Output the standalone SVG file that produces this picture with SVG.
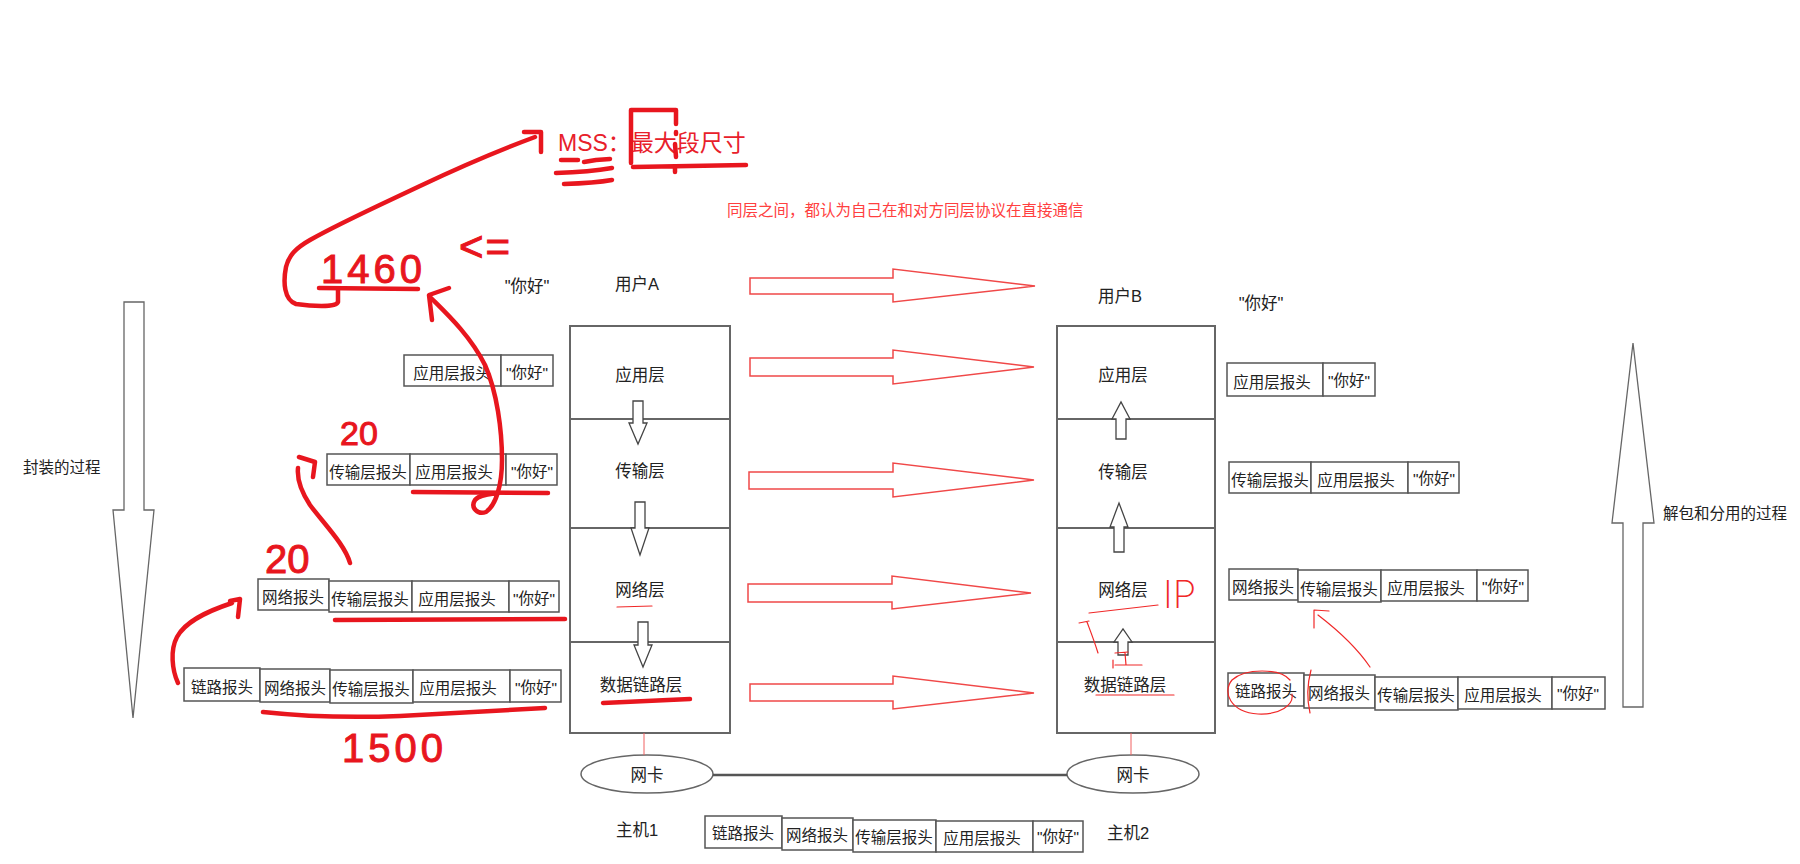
<svg xmlns="http://www.w3.org/2000/svg" width="1800" height="864" viewBox="0 0 1800 864">
<style>
.t{font-family:"Liberation Sans","Noto Sans CJK SC",sans-serif;fill:#222;dominant-baseline:central}
.c{text-anchor:middle}
.lbl{font-size:16.5px}
.pk{font-size:15.5px}
.box{fill:#fff;stroke:#555;stroke-width:1.5}
.layer{fill:#fff;stroke:#666;stroke-width:2}
.big{fill:#fff;stroke:#f04848;stroke-width:1.5}
.small{fill:#fff;stroke:#444;stroke-width:1.3}
.side{fill:#fff;stroke:#666;stroke-width:1.3}
.pen{fill:none;stroke:#e8161e;stroke-width:4.5;stroke-linecap:round;stroke-linejoin:round}
.thin{fill:none;stroke:#f02828;stroke-width:1.2;stroke-linecap:round;stroke-linejoin:round}
.hand{font-family:"Liberation Sans",sans-serif;fill:#e8161e;stroke:#e8161e;stroke-width:1}
.nic{fill:#fff;stroke:#666;stroke-width:1.5}
</style>

<!-- top red notes -->
<g id="mss-note">
<text x="558" y="151" style="font-family:'Liberation Sans','Noto Sans CJK SC',sans-serif;font-size:23px;fill:#e8202a">MSS：最大段尺寸</text>
</g>
<g id="peer-note">
<text x="727" y="216" style="font-family:'Liberation Sans','Noto Sans CJK SC',sans-serif;font-size:15.5px;fill:#ff4040">同层之间，都认为自己在和对方同层协议在直接通信</text>
</g>

<!-- side process arrows -->
<g id="encap-arrow">
<polygon class="side" points="124,302 144,302 144,510 154,510 133,718 113,510 124,510"/>
<text class="t" x="23" y="467" style="font-size:15.5px">封装的过程</text>
</g>
<g id="decap-arrow">
<polygon class="side" points="1623,707 1643,707 1643,523 1654,523 1633,343 1612,523 1623,523"/>
<text class="t" x="1663" y="513" style="font-size:15.5px">解包和分用的过程</text>
</g>

<!-- users -->
<g id="userA"><text class="t c lbl" x="637" y="284">用户A</text></g>
<g id="userB"><text class="t c lbl" x="1120" y="296">用户B</text></g>
<g id="dataA"><text class="t c lbl" x="527" y="286">"你好"</text></g>
<g id="dataB"><text class="t c lbl" x="1261" y="303">"你好"</text></g>

<!-- left stack -->
<g id="hostA-app"><rect class="layer" x="570" y="326" width="160" height="93"/><text class="t c lbl" x="640" y="375">应用层</text></g>
<g id="hostA-trans"><rect class="layer" x="570" y="419" width="160" height="109"/><text class="t c lbl" x="640" y="471">传输层</text></g>
<g id="hostA-net"><rect class="layer" x="570" y="528" width="160" height="114"/><text class="t c lbl" x="640" y="590">网络层</text></g>
<g id="hostA-link"><rect class="layer" x="570" y="642" width="160" height="91"/><text class="t c lbl" x="641" y="685">数据链路层</text></g>

<!-- right stack -->
<g id="hostB-app"><rect class="layer" x="1057" y="326" width="158" height="93"/><text class="t c lbl" x="1123" y="375">应用层</text></g>
<g id="hostB-trans"><rect class="layer" x="1057" y="419" width="158" height="109"/><text class="t c lbl" x="1123" y="472">传输层</text></g>
<g id="hostB-net"><rect class="layer" x="1057" y="528" width="158" height="114"/><text class="t c lbl" x="1123" y="590">网络层</text></g>
<g id="hostB-link"><rect class="layer" x="1057" y="642" width="158" height="91"/><text class="t c lbl" x="1125" y="685">数据链路层</text></g>

<!-- NICs -->
<g id="nicA"><ellipse class="nic" cx="647" cy="774" rx="66" ry="19"/><text class="t c lbl" x="647" y="775">网卡</text></g>
<g id="nicB"><ellipse class="nic" cx="1133" cy="774" rx="66" ry="19"/><text class="t c lbl" x="1133" y="775">网卡</text></g>
<g id="host1"><text class="t c lbl" x="637" y="830">主机1</text></g>
<g id="host2"><text class="t c lbl" x="1128" y="833">主机2</text></g>

<!-- packets left -->
<g id="pktA1">
<rect class="box" x="404" y="355" width="97" height="31"/><text class="t c pk" x="452" y="373">应用层报头</text>
<rect class="box" x="501" y="355" width="52" height="31"/><text class="t c pk" x="527" y="372">"你好"</text>
</g>
<g id="pktA2">
<rect class="box" x="327" y="454" width="83" height="31"/><text class="t c pk" x="368" y="472">传输层报头</text>
<rect class="box" x="410" y="454" width="96" height="31"/><text class="t c pk" x="454" y="472">应用层报头</text>
<rect class="box" x="506" y="454" width="51" height="31"/><text class="t c pk" x="532" y="471">"你好"</text>
</g>
<g id="pktA3">
<rect class="box" x="258" y="579" width="71" height="31"/><text class="t c pk" x="293" y="597">网络报头</text>
<rect class="box" x="329" y="581" width="83" height="31"/><text class="t c pk" x="370" y="599">传输层报头</text>
<rect class="box" x="412" y="581" width="97" height="31"/><text class="t c pk" x="457" y="599">应用层报头</text>
<rect class="box" x="509" y="581" width="50" height="31"/><text class="t c pk" x="534" y="598">"你好"</text>
</g>
<g id="pktA4">
<rect class="box" x="184" y="668" width="76" height="33"/><text class="t c pk" x="222" y="687">链路报头</text>
<rect class="box" x="260" y="669" width="70" height="33"/><text class="t c pk" x="295" y="688">网络报头</text>
<rect class="box" x="330" y="670" width="83" height="33"/><text class="t c pk" x="371" y="689">传输层报头</text>
<rect class="box" x="413" y="670" width="97" height="32"/><text class="t c pk" x="458" y="688">应用层报头</text>
<rect class="box" x="510" y="670" width="51" height="32"/><text class="t c pk" x="536" y="687">"你好"</text>
</g>

<!-- packets right -->
<g id="pktB1">
<rect class="box" x="1227" y="363" width="96" height="33"/><text class="t c pk" x="1272" y="382">应用层报头</text>
<rect class="box" x="1323" y="363" width="52" height="33"/><text class="t c pk" x="1349" y="380">"你好"</text>
</g>
<g id="pktB2">
<rect class="box" x="1229" y="462" width="82" height="31"/><text class="t c pk" x="1270" y="480">传输层报头</text>
<rect class="box" x="1311" y="462" width="97" height="31"/><text class="t c pk" x="1356" y="480">应用层报头</text>
<rect class="box" x="1408" y="462" width="51" height="31"/><text class="t c pk" x="1434" y="478">"你好"</text>
</g>
<g id="pktB3">
<rect class="box" x="1229" y="569" width="69" height="31"/><text class="t c pk" x="1263" y="587">网络报头</text>
<rect class="box" x="1298" y="570" width="83" height="32"/><text class="t c pk" x="1339" y="589">传输层报头</text>
<rect class="box" x="1381" y="570" width="96" height="31"/><text class="t c pk" x="1426" y="588">应用层报头</text>
<rect class="box" x="1477" y="570" width="51" height="31"/><text class="t c pk" x="1503" y="586">"你好"</text>
</g>
<g id="pktB4">
<rect class="box" x="1228" y="673" width="76" height="33"/><text class="t c pk" x="1266" y="691">链路报头</text>
<rect class="box" x="1304" y="675" width="71" height="33"/><text class="t c pk" x="1339" y="693">网络报头</text>
<rect class="box" x="1375" y="677" width="83" height="33"/><text class="t c pk" x="1416" y="695">传输层报头</text>
<rect class="box" x="1458" y="677" width="94" height="32"/><text class="t c pk" x="1503" y="695">应用层报头</text>
<rect class="box" x="1552" y="677" width="53" height="32"/><text class="t c pk" x="1578" y="693">"你好"</text>
</g>

<!-- packet on wire -->
<g id="pktWire">
<rect class="box" x="705" y="816" width="77" height="32"/><text class="t c pk" x="743" y="833">链路报头</text>
<rect class="box" x="782" y="818" width="71" height="32"/><text class="t c pk" x="817" y="835">网络报头</text>
<rect class="box" x="853" y="820" width="83" height="32"/><text class="t c pk" x="894" y="837">传输层报头</text>
<rect class="box" x="936" y="821" width="97" height="31"/><text class="t c pk" x="982" y="838">应用层报头</text>
<rect class="box" x="1033" y="821" width="50" height="31"/><text class="t c pk" x="1058" y="836">"你好"</text>
</g>

<!-- connectors -->
<g id="connectors">
<!-- peer arrows -->
<polygon class="big" points="750,278 893,278 893,269 1035,286 893,302 893,294 750,294"/>
<polygon class="big" points="750,358 893,358 893,350 1034,367 893,384 893,376 750,376"/>
<polygon class="big" points="749,472 893,472 893,463 1034,480 893,497 893,489 749,489"/>
<polygon class="big" points="748,584 892,584 892,576 1031,593 892,609 892,602 748,602"/>
<polygon class="big" points="750,684 893,684 893,676 1034,693 893,709 893,701 750,701"/>
<!-- down arrows left -->
<polygon class="small" points="633,401 643,401 643,423 647,423 638,444 629,423 633,423"/>
<polygon class="small" points="635,502 645,502 645,528 649,528 640,555 631,528 635,528"/>
<polygon class="small" points="638,622 648,622 648,645 652,645 643,667 634,645 638,645"/>
<!-- up arrows right -->
<polygon class="small" points="1116,439 1126,439 1126,419 1130,419 1121,402 1112,419 1116,419"/>
<polygon class="small" points="1114,552 1124,552 1124,527 1128,527 1119,503 1110,527 1114,527"/>
<polygon class="small" points="1118,655 1128,655 1128,642 1132,642 1123,629 1114,642 1118,642"/>
<!-- nic links -->
<line x1="644" y1="733" x2="644" y2="755" stroke="#f06060" stroke-width="1"/>
<line x1="1131" y1="733" x2="1131" y2="755" stroke="#f06060" stroke-width="1"/>
<line x1="713" y1="775" x2="1067" y2="775" stroke="#555" stroke-width="2.5"/>
</g>

<!-- handwritten annotations -->
<g id="annotations">
<path class="pen" d="M631,163 L631,110 L676,110 L676,124 M676,132 L676,134 M675,144 L676,157"/>
<path class="pen" d="M633,167 L746,165 M675,167 L675,172"/>
<path class="pen" d="M561,160 L578,160 M584,162 L596,160 L610,159 M556,173 Q590,172 612,168 M564,184 Q595,183 612,180"/>
<path class="pen" d="M338,290 L338,302 C336,308 310,306 296,304 C284,300 283,282 286,267 C289,255 296,248 310,240 C340,223 380,205 420,186 C460,167 500,150 535,137"/>
<path class="pen" d="M524,132 L541,132 L541,152"/>
<text class="hand" x="321" y="283" style="font-size:40px;letter-spacing:4px">1460</text>
<path class="pen" d="M319,288 L418,289"/>
<text class="hand" x="459" y="261" style="font-size:42px;letter-spacing:2px">&lt;=</text>
<path class="pen" d="M449,288 L429,295 L432,320"/>
<path class="pen" d="M431,298 C445,312 470,335 485,365 C497,392 502,430 502,460 C502,485 496,505 486,512 C478,515 470,508 475,500 C480,494 490,494 498,493"/>
<path class="pen" d="M413,492 L548,493"/>
<text class="hand" x="340" y="445" style="font-size:34px">20</text>
<path class="pen" d="M350,563 C345,545 325,525 310,505 C300,490 297,478 298,468 M299,457 L315,462 L313,477"/>
<path class="pen" d="M335,620 L565,619"/>
<text class="hand" x="265" y="573" style="font-size:40px">20</text>
<path class="pen" d="M178,683 C172,670 170,650 177,637 C185,622 205,612 232,603 M230,601 L240,599 L238,617"/>
<path class="pen" d="M263,712 C300,716 350,718 400,716 C460,713 510,710 545,708"/>
<text class="hand" x="342" y="762" style="font-size:40px;letter-spacing:4px">1500</text>
<path class="pen" d="M603,703 L690,699"/>
<path class="thin" d="M617,607 L652,606"/>
<text x="1163" y="608" style="font-family:Inter,'Liberation Sans',sans-serif;font-weight:200;font-size:38px;fill:#f02828">IP</text>
<path class="thin" d="M1089,613 L1158,605"/>
<path class="thin" d="M1098,653 C1094,640 1090,630 1087,622 M1079,623 L1089,621"/>
<path class="thin" d="M1115,653 L1128,652 M1125,653 L1126,665 M1115,665 L1142,665 M1113,660 L1113,668"/>
<path class="thin" d="M1096,695 L1174,695"/>
<path class="thin" d="M1290,680 C1280,668 1245,668 1232,680 C1222,692 1230,712 1258,714 C1280,715 1294,705 1292,694"/>
<path class="thin" d="M1311,670 C1307,685 1307,700 1310,713"/>
<path class="thin" d="M1370,667 C1355,645 1335,628 1318,615 M1314,628 L1314,610 L1329,611"/>
</g>
</svg>
